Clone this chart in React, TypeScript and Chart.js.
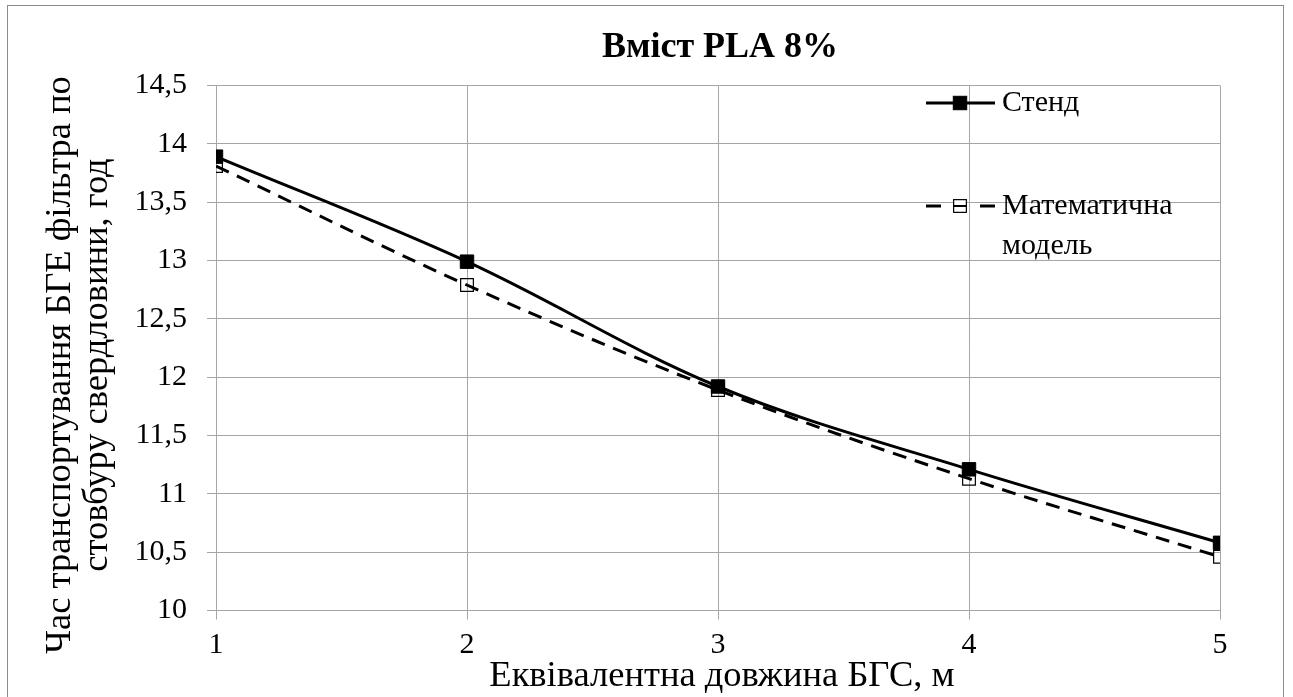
import React, { useEffect, useRef } from "react";
import { Chart, registerables } from "chart.js";

Chart.register(...registerables);

const xValues = [1, 2, 3, 4, 5];
const stendValues = [13.89, 12.99, 11.92, 11.21, 10.58];
const modelValues = [13.81, 12.79, 11.89, 11.13, 10.46];
const seriesNames = ["Стенд", "Математична модель"];
const chartTitle = "Вміст PLA 8%";
const xTitle = "Еквівалентна довжина БГС, м";
const yTitleLines = ["Час транспортування БГЕ фільтра по", "стовбуру свердловини, год"];
const legendLines = [["Стенд"], ["Математична", "модель"]];

const FONT = '"Liberation Serif", "Times New Roman", serif';
const GRID = "#a6a6a6";

const decorPlugin = {
  id: "decor",
  beforeDraw(chart: any) {
    const ctx = chart.ctx;
    ctx.save();
    ctx.fillStyle = "#ffffff";
    ctx.fillRect(0, 0, chart.width, chart.height);
    ctx.strokeStyle = "#8c8c8c";
    ctx.lineWidth = 1;
    ctx.strokeRect(7.5, 5.5, 1276, 720);
    ctx.restore();
  },
  afterDraw(chart: any) {
    const ctx = chart.ctx;
    ctx.save();
    ctx.fillStyle = "#000";
    // chart title
    ctx.font = "bold 36px " + FONT;
    ctx.textAlign = "center";
    ctx.textBaseline = "middle";
    ctx.fillText(chartTitle, 720, 48);
    // x title
    ctx.font = "36.5px " + FONT;
    ctx.textBaseline = "alphabetic";
    ctx.fillText(xTitle, 722, 686);
    // y title
    ctx.save();
    ctx.translate(0, 365);
    ctx.rotate(-Math.PI / 2);
    ctx.textBaseline = "middle";
    ctx.fillText(yTitleLines[0], 0, 60);
    ctx.fillText(yTitleLines[1], 0, 97);
    ctx.restore();

    // legend
    const ds = chart.data.datasets;
    const items = [
      { y: 103, lines: legendLines[0], d: ds[0] },
      { y: 206, lines: legendLines[1], d: ds[1] },
    ];
    items.forEach((it) => {
      ctx.save();
      ctx.strokeStyle = "#000";
      ctx.lineWidth = 3;
      ctx.beginPath();
      if (it.d.borderDash) {
        ctx.moveTo(926, it.y);
        ctx.lineTo(941, it.y);
        ctx.moveTo(980, it.y);
        ctx.lineTo(995, it.y);
      } else {
        ctx.moveTo(926, it.y);
        ctx.lineTo(995, it.y);
      }
      ctx.stroke();
      const s = it.d.pointRadius * Math.SQRT1_2;
      if (it.d.pointBackgroundColor !== "rgba(0,0,0,0)") {
        ctx.fillStyle = it.d.pointBackgroundColor;
        ctx.fillRect(960 - s, it.y - s, 2 * s, 2 * s);
      } else {
        ctx.fillStyle = "#fff";
        ctx.fillRect(960 - s, it.y - s, 2 * s, 2 * s);
        ctx.beginPath();
        ctx.moveTo(960 - s, it.y);
        ctx.lineTo(960 + s, it.y);
        ctx.lineWidth = 2;
        ctx.stroke();
      }
      ctx.lineWidth = it.d.pointBorderWidth;
      ctx.strokeStyle = "#000";
      ctx.strokeRect(960 - s, it.y - s, 2 * s, 2 * s);
      ctx.fillStyle = "#000";
      ctx.font = "30px " + FONT;
      ctx.textAlign = "left";
      ctx.textBaseline = "middle";
      it.lines.forEach((ln: string, i: number) => {
        ctx.fillText(ln, 1002, it.y + i * 40);
      });
      ctx.restore();
    });
    ctx.restore();
  },
};

export default function App() {
  const ref = useRef<HTMLCanvasElement>(null);
  useEffect(() => {
    document.body.style.margin = "0";
    const canvas = ref.current!;
    const chart = new Chart(canvas, {
      type: "line",
      data: {
        datasets: [
          {
            label: seriesNames[0],
            data: xValues.map((x, i) => ({ x, y: stendValues[i] })),
            borderColor: "#000",
            borderWidth: 3,
            tension: 0.35,
            pointStyle: "rect",
            pointRadius: 9.5,
            pointBackgroundColor: "#000",
            pointBorderColor: "#000",
            pointBorderWidth: 1,
          },
          {
            label: seriesNames[1],
            data: xValues.map((x, i) => ({ x, y: modelValues[i] })),
            borderColor: "#000",
            borderWidth: 3,
            borderDash: [14, 9],
            tension: 0.35,
            pointStyle: "rect",
            pointRadius: 9,
            pointBackgroundColor: "rgba(0,0,0,0)",
            pointBorderColor: "#000",
            pointBorderWidth: 1.2,
          },
        ],
      },
      options: {
        animation: false,
        responsive: false,
        devicePixelRatio: 1,
        layout: { padding: { left: 0, top: 85.5, right: 73, bottom: 0 } },
        plugins: { legend: { display: false }, tooltip: { enabled: false }, title: { display: false } },
        scales: {
          x: {
            type: "linear",
            min: 1,
            max: 5,
            afterFit: (s: any) => {
              s.height = 86.5;
            },
            ticks: { stepSize: 1, color: "#000", font: { family: FONT, size: 30 }, padding: 8, maxRotation: 0 },
            grid: { color: GRID, lineWidth: 1, tickLength: 9 },
            border: { color: GRID, width: 1 },
          },
          y: {
            type: "linear",
            min: 10,
            max: 14.5,
            afterFit: (s: any) => {
              s.width = 216;
            },
            ticks: {
              stepSize: 0.5,
              color: "#000",
              font: { family: FONT, size: 30 },
              padding: 20,
              callback: (v: any) => String(v).replace(".", ","),
            },
            grid: { color: GRID, lineWidth: 1, tickLength: 9 },
            border: { color: GRID, width: 1 },
          },
        },
      },
      plugins: [decorPlugin],
    });
    return () => chart.destroy();
  }, []);
  return (
    <div style={{ position: "fixed", left: 0, top: 0, width: 1293, height: 697 }}>
      <canvas ref={ref} width={1293} height={697} style={{ width: 1293, height: 697 }} />
    </div>
  );
}
